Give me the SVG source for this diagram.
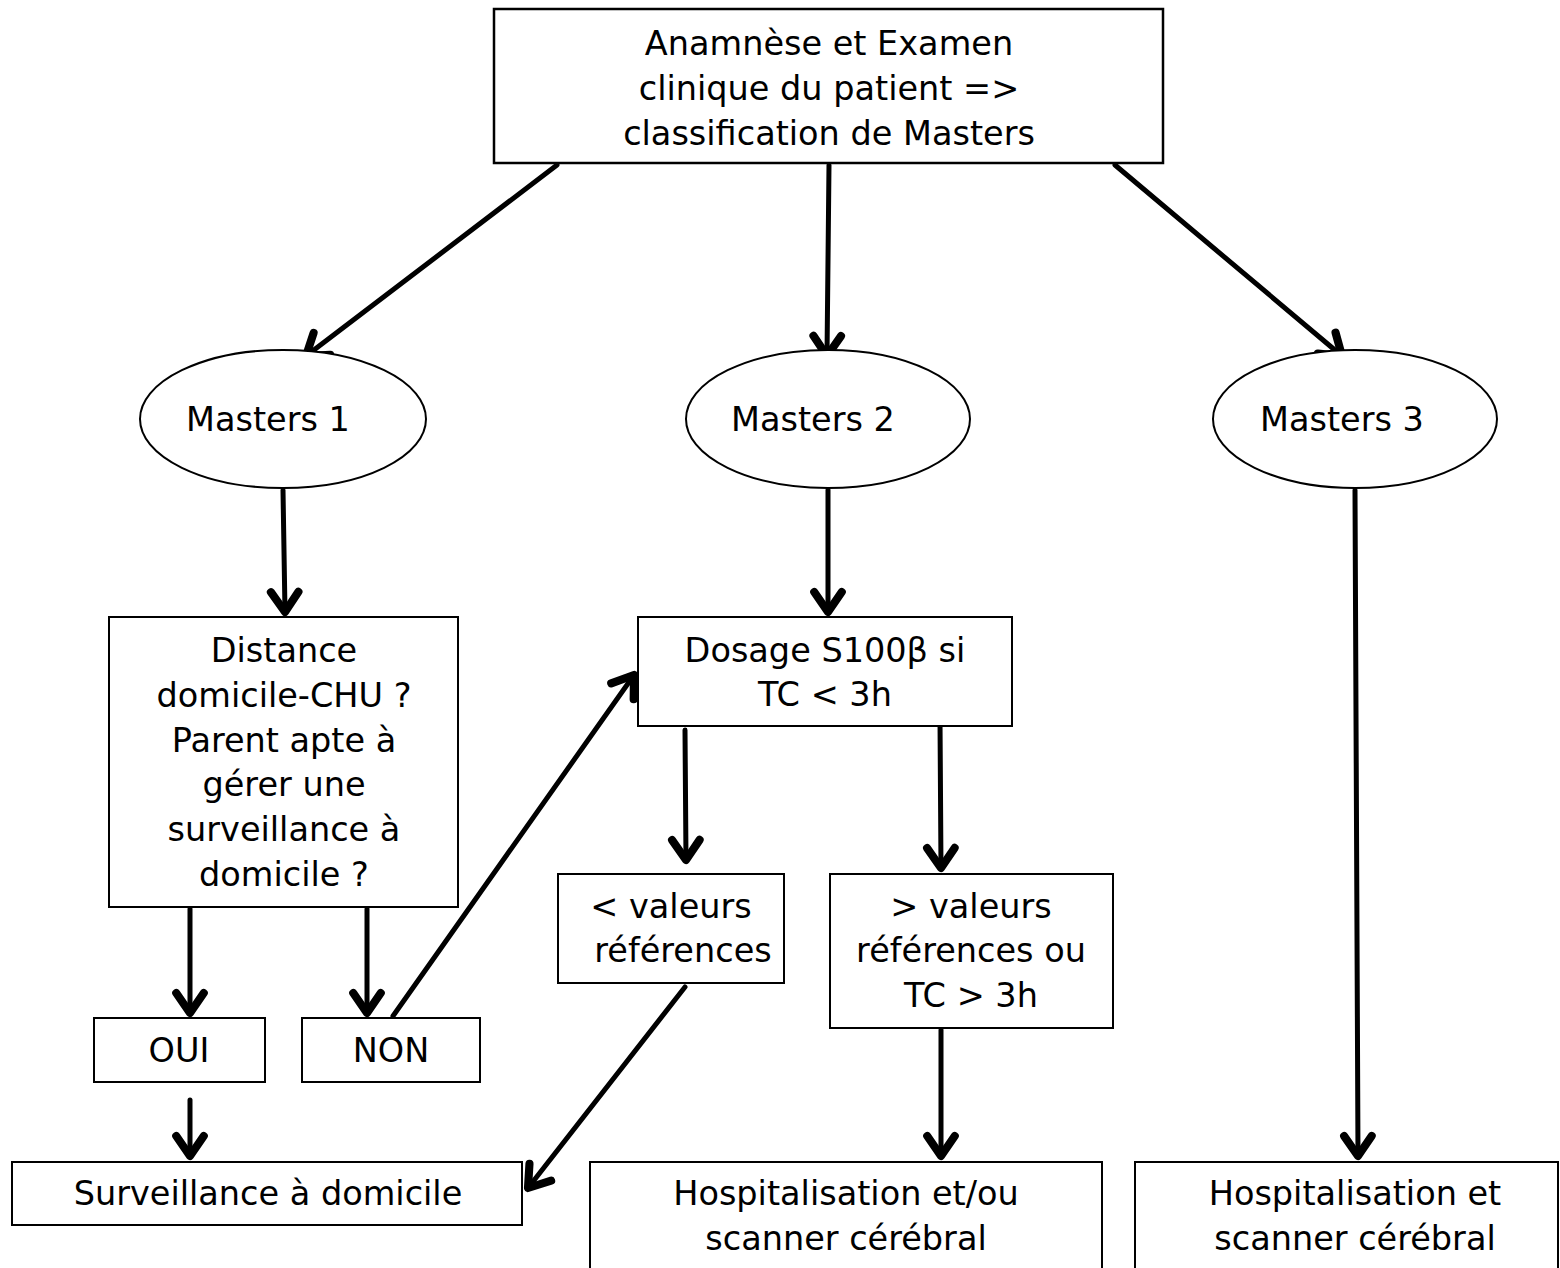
<svg xmlns="http://www.w3.org/2000/svg" width="1560" height="1268" viewBox="0 0 1560 1268">
<style>
.box{fill:#fff;stroke:#000;stroke-width:2}
.t{font-family:"DejaVu Sans",sans-serif;font-size:33.5px;fill:#000;text-anchor:middle}
.c{fill:none;stroke:#000;stroke-width:5;stroke-linecap:round;marker-end:url(#ah)}
</style>
<defs>
<marker id="ah" markerUnits="userSpaceOnUse" markerWidth="40" markerHeight="40" viewBox="-22 -16 26 32" refX="0" refY="0" orient="auto">
<path d="M-16,-11 L0,0 L-16,11" fill="none" stroke="#000" stroke-width="6.5" stroke-linecap="round" stroke-linejoin="round"/>
</marker>
</defs>
<rect width="1560" height="1268" fill="#fff"/>
<g id="connectors">
<line class="c" x1="557" y1="165" x2="306" y2="356"/>
<line class="c" x1="829" y1="165" x2="827" y2="356"/>
<line class="c" x1="1115" y1="165" x2="1342" y2="356"/>
<line class="c" x1="283" y1="490" x2="285" y2="612"/>
<line class="c" x1="828" y1="490" x2="828" y2="612"/>
<line class="c" x1="190" y1="909" x2="190" y2="1013"/>
<line class="c" x1="367" y1="909" x2="367" y2="1013"/>
<line class="c" x1="393" y1="1016" x2="634" y2="675"/>
<line class="c" x1="190" y1="1100" x2="190" y2="1156"/>
<line class="c" x1="685" y1="730" x2="686" y2="860"/>
<line class="c" x1="940" y1="720" x2="941" y2="868"/>
<line class="c" x1="685" y1="987" x2="528" y2="1188"/>
<line class="c" x1="941" y1="1030" x2="941" y2="1156"/>
<line class="c" x1="1355" y1="490" x2="1358" y2="1156"/>
</g>
<g id="n-top">
<rect class="box" x="494" y="9" width="669" height="154" style="stroke-width:2.5"/>
<text class="t" x="829" y="55">Anamnèse et Examen</text>
<text class="t" x="829" y="100">clinique du patient =&gt;</text>
<text class="t" x="829" y="145">classification de Masters</text>
</g>
<g id="n-m1">
<ellipse class="box" cx="283" cy="419" rx="143" ry="69"/>
<text class="t" x="268" y="431">Masters 1</text>
</g>
<g id="n-m2">
<ellipse class="box" cx="828" cy="419" rx="142" ry="69"/>
<text class="t" x="813" y="431">Masters 2</text>
</g>
<g id="n-m3">
<ellipse class="box" cx="1355" cy="419" rx="142" ry="69"/>
<text class="t" x="1342" y="431">Masters 3</text>
</g>
<g id="n-distance">
<rect class="box" x="109" y="617" width="349" height="290"/>
<text class="t" x="284" y="662">Distance</text>
<text class="t" x="284" y="707">domicile-CHU ?</text>
<text class="t" x="284" y="752">Parent apte à</text>
<text class="t" x="284" y="796">gérer une</text>
<text class="t" x="284" y="841">surveillance à</text>
<text class="t" x="284" y="886">domicile ?</text>
</g>
<g id="n-dosage">
<rect class="box" x="638" y="617" width="374" height="109"/>
<text class="t" x="825" y="662">Dosage S100β si</text>
<text class="t" x="825" y="706">TC &lt; 3h</text>
</g>
<g id="n-oui">
<rect class="box" x="94" y="1018" width="171" height="64"/>
<text class="t" x="179" y="1062">OUI</text>
</g>
<g id="n-non">
<rect class="box" x="302" y="1018" width="178" height="64"/>
<text class="t" x="391" y="1062">NON</text>
</g>
<g id="n-inf">
<rect class="box" x="558" y="874" width="226" height="109"/>
<text class="t" x="671" y="918">&lt; valeurs</text>
<text class="t" x="683" y="962">références</text>
</g>
<g id="n-sup">
<rect class="box" x="830" y="874" width="283" height="154"/>
<text class="t" x="971" y="918">&gt; valeurs</text>
<text class="t" x="971" y="962">références ou</text>
<text class="t" x="971" y="1007">TC &gt; 3h</text>
</g>
<g id="n-surv">
<rect class="box" x="12" y="1162" width="510" height="63"/>
<text class="t" x="268" y="1205">Surveillance à domicile</text>
</g>
<g id="n-hosp1">
<rect class="box" x="590" y="1162" width="512" height="120"/>
<text class="t" x="846" y="1205">Hospitalisation et/ou</text>
<text class="t" x="846" y="1250">scanner cérébral</text>
</g>
<g id="n-hosp2">
<rect class="box" x="1135" y="1162" width="423" height="120"/>
<text class="t" x="1355" y="1205">Hospitalisation et</text>
<text class="t" x="1355" y="1250">scanner cérébral</text>
</g>
</svg>
